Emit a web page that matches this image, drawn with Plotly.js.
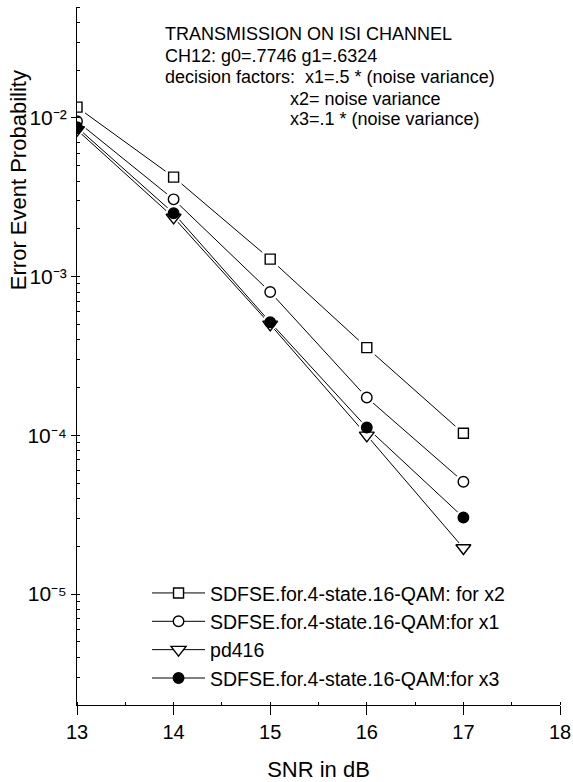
<!DOCTYPE html>
<html>
<head>
<meta charset="utf-8">
<script src="https://cdn.plot.ly/plotly-3.0.1.min.js"></script>
<style>html,body{margin:0;padding:0;background:#fff;}#chart{width:573px;height:782px;}</style>
</head>
<body>
<div id="chart"></div>
<script>
// ---- data ----
const snr = [13, 14, 15, 16, 17];
const pX2 = [0.0117, 0.00424, 0.00129, 0.000357, 0.000103];
const pX1 = [0.00953, 0.00307, 0.00080, 0.000173, 0.0000510];
const pPd416 = [0.0084, 0.00236, 0.00050, 0.000100, 0.0000195];
const pX3 = [0.00873, 0.00251, 0.000516, 0.000112, 0.0000304];

const seriesNames = [
  'SDFSE.for.4-state.16-QAM: for x2',
  'SDFSE.for.4-state.16-QAM:for x1',
  'pd416',
  'SDFSE.for.4-state.16-QAM:for x3'
];
const yTickVals = [1e-5, 1e-4, 1e-3, 1e-2];
const yTickText = ['10\u207B\u2075', '10\u207B\u2074', '10\u207B\u00B3', '10\u207B\u00B2'];
const xRange = [13, 18];
const yRange = [Math.log10(2e-6), Math.log10(0.05)];
const noteLines = [
  'TRANSMISSION ON ISI CHANNEL',
  'CH12: g0=.7746 g1=.6324',
  'decision factors:  x1=.5 * (noise variance)',
  'x2= noise variance',
  'x3=.1 * (noise variance)'
];

// ---- styles ----
const FONT = 'Arial, "Liberation Sans", sans-serif';
const series = [
  {y: pX2, symbol: 'square', fill: 'white', size: 10, halo: 'square', hsize: 16},
  {y: pX1, symbol: 'circle', fill: 'white', size: 10.5, halo: 'circle', hsize: 17},
  {y: pPd416, symbol: 'triangle-down', fill: 'white', size: 13, halo: 'triangle-down', hsize: 20},
  {y: pX3, symbol: 'circle', fill: 'black', size: 10.5, halo: 'circle', hsize: 16}
];

const traces = [];
// lines (legend entries)
series.forEach((s, i) => {
  traces.push({
    x: snr, y: s.y, name: seriesNames[i], type: 'scatter', mode: 'lines+markers',
    line: {color: '#000', width: 1},
    marker: {symbol: s.symbol, size: s.size, color: s.fill, line: {color: '#000', width: 1.4}},
    showlegend: true, hoverinfo: 'skip'
  });
});
// white halos to create gaps between lines and markers
series.forEach((s) => {
  traces.push({
    x: snr, y: s.y, type: 'scatter', mode: 'markers', showlegend: false, hoverinfo: 'skip',
    marker: {symbol: s.halo, size: s.hsize, color: 'white', line: {width: 0}}
  });
});
// markers on top
series.forEach((s) => {
  traces.push({
    x: snr, y: s.y, type: 'scatter', mode: 'markers', showlegend: false, hoverinfo: 'skip',
    marker: {symbol: s.symbol, size: s.size, color: s.fill, line: {color: '#000', width: 1.4}}
  });
});

const notePos = [
  {x: 0.178, y: 0.962}, {x: 0.178, y: 0.930}, {x: 0.178, y: 0.899},
  {x: 0.437, y: 0.868}, {x: 0.437, y: 0.840}
];
const annotations = noteLines.map((t, i) => ({
  text: t, xref: 'paper', yref: 'paper', x: notePos[i].x, y: notePos[i].y,
  xanchor: 'left', yanchor: 'middle', showarrow: false,
  font: {family: FONT, size: 18, color: '#000'}
}));
annotations.push({
  text: 'Error Event Probability', xref: 'paper', yref: 'paper',
  x: -0.122, y: 0.752, xanchor: 'center', yanchor: 'middle', textangle: -90,
  showarrow: false, font: {family: FONT, size: 22, color: '#000'}
});

const layout = {
  width: 573, height: 782,
  margin: {l: 77, r: 13, t: 7, b: 77},
  paper_bgcolor: '#fff', plot_bgcolor: '#fff',
  font: {family: FONT, size: 20, color: '#000'},
  showlegend: true,
  legend: {
    x: 0.145, y: 0.188, xanchor: 'left', yanchor: 'top',
    bgcolor: 'rgba(0,0,0,0)', borderwidth: 0,
    font: {family: FONT, size: 19.5, color: '#000'},
    itemwidth: 53, tracegroupgap: 0
  },
  xaxis: {
    range: xRange, dtick: 1, tick0: 13, showgrid: false, zeroline: false,
    showline: true, linecolor: '#000', linewidth: 1,
    ticks: 'outside', ticklen: 9, tickwidth: 1, tickcolor: '#000',
    minor: {dtick: 0.5, ticks: 'inside', ticklen: 3, tickcolor: '#000', tickwidth: 1},
    tickfont: {family: FONT, size: 20},
    title: {text: 'SNR in dB', font: {family: FONT, size: 22}, standoff: 19}
  },
  yaxis: {
    type: 'log', range: yRange, tickmode: 'array', tickvals: yTickVals, ticktext: yTickText,
    showgrid: false, zeroline: false,
    showline: true, linecolor: '#000', linewidth: 1,
    ticks: 'outside', ticklen: 5, tickwidth: 1, tickcolor: '#000',
    minor: {dtick: 'D1', ticks: 'inside', ticklen: 3, tickcolor: '#000', tickwidth: 1},
    tickfont: {family: FONT, size: 21}, ticklabelstandoff: 0
  },
  xaxis2: {
    overlaying: 'x', side: 'top', anchor: 'y', range: xRange, dtick: 1, tick0: 13,
    showgrid: false, zeroline: false, showticklabels: false,
    showline: true, linecolor: '#000', linewidth: 1,
    ticks: 'inside', ticklen: 5, tickcolor: '#000',
    minor: {dtick: 0.5, ticks: 'inside', ticklen: 3, tickcolor: '#000'}
  },
  yaxis2: {
    overlaying: 'y', side: 'right', anchor: 'x', type: 'log', range: yRange,
    tickmode: 'array', tickvals: yTickVals,
    showgrid: false, zeroline: false, showticklabels: false,
    showline: true, linecolor: '#000', linewidth: 1,
    ticks: 'inside', ticklen: 5, tickcolor: '#000',
    minor: {dtick: 'D1', ticks: 'inside', ticklen: 3, tickcolor: '#000'}
  },
  annotations: annotations
};

Plotly.newPlot('chart', traces, layout, {staticPlot: true, displayModeBar: false});
</script>
</body>
</html>
